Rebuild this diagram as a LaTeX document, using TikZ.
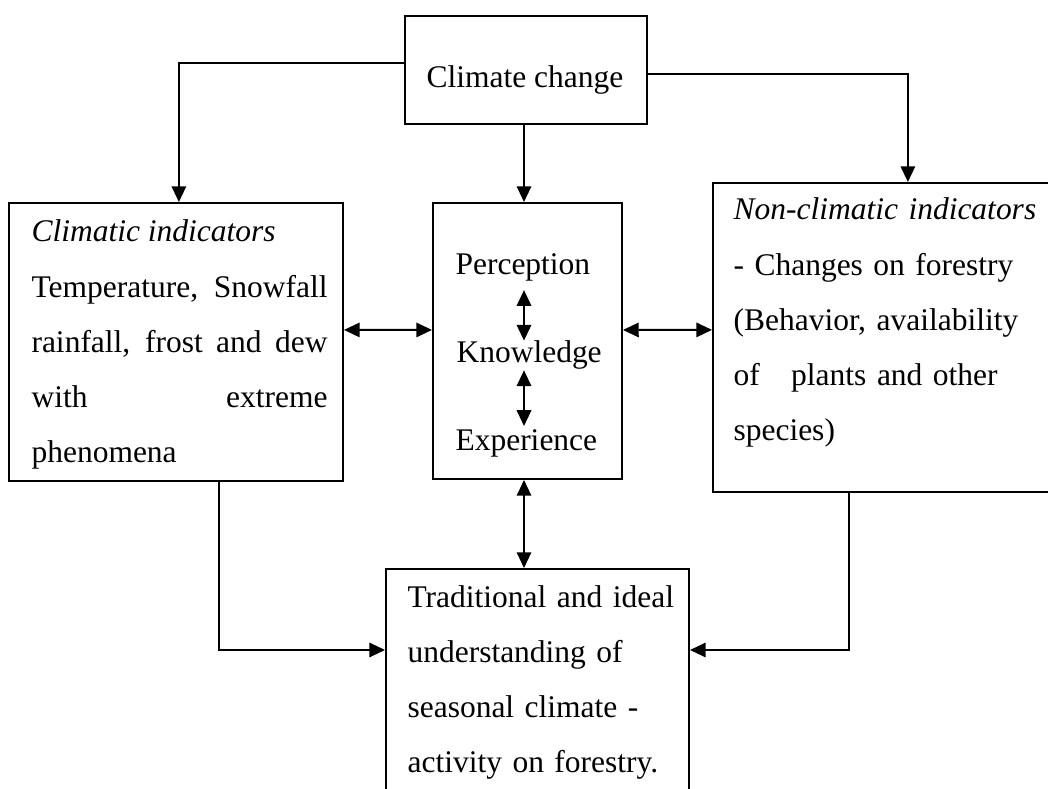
\documentclass[tikz,border=0pt]{standalone}
\usepackage{fontspec}
\setmainfont{Liberation Serif}
\usetikzlibrary{arrows.meta, positioning}
\newcommand{\pxu}{0.381pt}
\tikzset{
  box/.style={draw, line width=0.75pt, inner sep=0pt},
  txt/.style={inner sep=0pt, font=\fontsize{12pt}{21pt}\selectfont},
  link/.style={line width=0.75pt},
  >={Triangle[length=6pt,width=5.5pt]}
}

\begin{document}
\begin{tikzpicture}[x=0.381pt, y=-0.381pt]
    \useasboundingbox (0,0) rectangle (1048,789);
    \clip (0,0) rectangle (1048,789);

    % Boxes
    \node[box, minimum width=242*\pxu, minimum height=108*\pxu] (climate) at (526,70) {};
    \node[box, minimum width=334*\pxu, minimum height=278*\pxu] (climatic) at (176,342) {};
    \node[box, minimum width=189*\pxu, minimum height=276*\pxu] (mid) at (527.5,341) {};
    \node[box, minimum width=342*\pxu, minimum height=309*\pxu] (nonclim) at (884,337.5) {};
    \node[box, minimum width=303*\pxu, minimum height=236*\pxu] (tradition) at (537.5,687) {};

    % Texts
    \node[txt, anchor=base] (climatetxt) at (525,88) {Climate change};
    \node[txt, anchor=base west, text width=296*\pxu, align=justify] (climatictxt) at (31,242)
        {\textit{Climatic indicators}\par
         Temperature, Snowfall\linebreak rainfall, frost and dew\linebreak
         with extreme\linebreak phenomena};
    \node[txt, anchor=base west, text width=320*\pxu, align=left] (nonclimtxt) at (733,220)
        {\textit{Non-climatic indicators}\\ - Changes on forestry\\
         (Behavior, availability\\ of\ \ \ plants and other\\ species)};
    \node[txt, anchor=base west, text width=290*\pxu, align=left] (traditiontxt) at (407,607)
        {Traditional and ideal\\ understanding of\\ seasonal climate -\\
         activity on forestry.};

    % Middle column
    \node[txt, anchor=base west] (percep) at (455,275) {Perception};
    \node[txt, anchor=base west] (know) at (456,363) {Knowledge};
    \node[txt, anchor=base west] (exper) at (455,450) {Experience};
    \coordinate (axis) at (524,0);

    % Connectors
    \draw[link, ->] ([yshift=2.7pt]climate.west) -| ([xshift=1.1pt]climatic.north);
    \draw[link, ->] ([yshift=-1.5pt]climate.east) -| ([xshift=9.1pt]nonclim.north);
    \draw[link, ->] (climate.south -| axis) -- (mid.north -| axis);
    \draw[link, <->] ([yshift=4.6pt]climatic.east) -- ([yshift=4.2pt]mid.west);
    \draw[link, <->] ([yshift=4.2pt]mid.east) -- ([yshift=2.9pt]nonclim.west);
    \draw[link, <->] (mid.south -| axis) -- (tradition.north -| axis);
    \draw[link, ->] ([xshift=16.4pt]climatic.south) |- ([yshift=14.1pt]tradition.west);
    \draw[link, ->] ([xshift=-13.3pt]nonclim.south) |- ([yshift=14.1pt]tradition.east);
    \draw[link, <->, shorten <=3pt] (percep.south -| axis) -- (know.north -| axis);
    \draw[link, <->] (know.south -| axis) -- ([yshift=1pt]exper.north -| axis);
\end{tikzpicture}
\end{document}
